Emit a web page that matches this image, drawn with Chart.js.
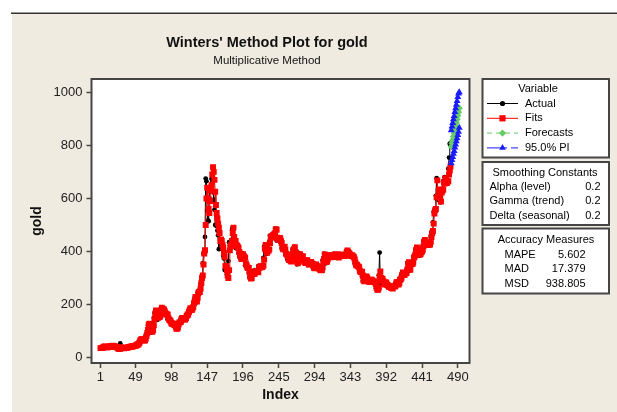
<!DOCTYPE html>
<html>
<head>
<meta charset="utf-8">
<script src="https://cdn.jsdelivr.net/npm/chart.js@4.4.1/dist/chart.umd.min.js"></script>
<style>
  html, body { margin: 0; padding: 0; background: #fff; }
  canvas { display: block; }
</style>
</head>
<body>
<canvas id="goldChart" width="617" height="412"></canvas>
<script>
// Winters' method plot for gold (Minitab style), drawn with Chart.js

// === Data ===
// monthly gold price, one row per year (index 1 .. 480)
const actual = [
  35, 35, 38, 38, 41, 41, 40, 39, 39, 39, 41, 41,
  42, 43, 43, 43, 44, 42, 42, 41, 41, 40, 38, 35,
  35, 35, 35, 54, 36, 35, 35, 35, 36, 38, 37, 37,
  38, 39, 39, 39, 41, 40, 41, 43, 42, 43, 43, 44,
  46, 48, 48, 49, 55, 62, 66, 67, 66, 65, 63, 64,
  65, 74, 84, 91, 102, 123, 120, 107, 103, 100, 95, 107,
  129, 150, 168, 172, 163, 154, 143, 155, 152, 159, 182, 184,
  176, 180, 178, 170, 167, 164, 165, 163, 145, 143, 143, 139,
  132, 131, 133, 128, 127, 126, 118, 110, 114, 117, 131, 134,
  132, 136, 149, 149, 147, 141, 143, 145, 149, 159, 162, 161,
  173, 178, 184, 175, 176, 184, 189, 206, 212, 227, 206, 208,
  227, 246, 242, 239, 258, 279, 295, 301, 355, 392, 393, 455,
  675, 665, 554, 517, 514, 601, 644, 627, 674, 661, 624, 595,
  557, 500, 499, 496, 479, 461, 409, 410, 443, 437, 413, 410,
  384, 374, 330, 350, 333, 314, 339, 364, 435, 422, 414, 444,
  481, 491, 419, 432, 438, 413, 422, 416, 412, 394, 381, 388,
  371, 387, 394, 381, 377, 378, 348, 348, 341, 340, 341, 320,
  303, 299, 304, 325, 316, 317, 317, 330, 323, 326, 325, 322,
  345, 339, 346, 340, 342, 343, 348, 376, 418, 423, 398, 391,
  408, 401, 409, 438, 460, 450, 450, 461, 460, 465, 467, 486,
  477, 442, 443, 451, 451, 451, 437, 431, 413, 407, 420, 418,
  404, 388, 390, 384, 371, 367, 375, 365, 362, 367, 394, 409,
  410, 417, 393, 374, 369, 352, 362, 395, 389, 380, 381, 378,
  383, 364, 363, 358, 357, 367, 368, 356, 349, 359, 360, 361,
  354, 354, 345, 338, 337, 341, 353, 343, 345, 344, 335, 334,
  329, 329, 330, 342, 367, 372, 392, 379, 355, 364, 373, 383,
  387, 382, 384, 377, 381, 386, 385, 380, 391, 389, 384, 379,
  379, 377, 382, 391, 385, 387, 386, 383, 383, 383, 386, 387,
  400, 405, 396, 393, 392, 385, 383, 387, 383, 381, 378, 369,
  355, 347, 352, 344, 344, 341, 324, 324, 323, 325, 306, 289,
  289, 297, 296, 308, 299, 292, 293, 284, 289, 296, 294, 291,
  287, 287, 286, 282, 277, 262, 256, 257, 265, 311, 396, 283,
  284, 300, 287, 280, 275, 286, 282, 275, 274, 270, 266, 272,
  266, 262, 263, 261, 272, 270, 268, 273, 283, 284, 276, 276,
  282, 296, 294, 302, 314, 321, 314, 310, 319, 317, 319, 333,
  357, 359, 340, 328, 355, 356, 351, 360, 379, 379, 389, 407,
  414, 405, 406, 404, 384, 392, 398, 400, 406, 420, 439, 442,
  424, 423, 434, 429, 422, 431, 424, 438, 456, 470, 476, 510,
  549, 555, 557, 610, 676, 596, 633, 632, 598, 585, 627, 629,
  631, 665, 655, 680, 667, 655, 665, 665, 712, 754, 806, 803,
];

const fits = [
  36, 36, 36, 38, 39, 41, 42, 41, 40, 39, 39, 40,
  41, 42, 43, 44, 44, 45, 43, 42, 41, 41, 40, 38,
  35, 34, 34, 34, 39, 38, 37, 36, 35, 36, 37, 38,
  37, 38, 39, 40, 40, 41, 41, 42, 43, 43, 44, 44,
  45, 47, 49, 50, 51, 55, 61, 67, 70, 70, 68, 66,
  65, 66, 72, 82, 92, 104, 124, 128, 118, 110, 104, 98,
  104, 122, 145, 167, 178, 174, 163, 150, 153, 153, 158, 178,
  188, 184, 183, 181, 174, 168, 164, 163, 162, 149, 143, 141,
  137, 130, 128, 129, 126, 124, 123, 117, 109, 110, 114, 126,
  133, 133, 135, 145, 150, 150, 145, 144, 145, 149, 157, 162,
  163, 172, 179, 186, 181, 180, 185, 191, 205, 214, 229, 215,
  212, 226, 245, 249, 247, 261, 281, 300, 310, 351, 392, 405,
  500, 600, 640, 600, 560, 545, 590, 630, 650, 690, 718, 700,
  670, 625, 575, 545, 525, 505, 490, 470, 440, 445, 440, 425,
  415, 395, 380, 345, 345, 330, 310, 300, 330, 405, 425, 420,
  440, 470, 490, 455, 440, 440, 425, 422, 418, 412, 398, 385,
  385, 372, 382, 390, 383, 378, 377, 355, 347, 340, 338, 338,
  322, 305, 298, 300, 318, 316, 316, 316, 326, 324, 325, 325,
  322, 340, 340, 345, 341, 342, 343, 347, 370, 410, 425, 405,
  395, 405, 403, 408, 432, 456, 455, 453, 461, 462, 466, 469,
  484, 482, 452, 445, 449, 450, 450, 440, 432, 416, 408, 417,
  418, 407, 392, 389, 385, 374, 368, 373, 366, 362, 365, 388,
  406, 410, 416, 398, 378, 370, 356, 360, 388, 390, 382, 381,
  378, 382, 368, 363, 359, 357, 365, 367, 358, 351, 357, 360,
  361, 356, 354, 347, 340, 337, 340, 351, 345, 345, 344, 337,
  334, 330, 329, 330, 340, 362, 372, 389, 382, 360, 362, 371,
  381, 386, 383, 384, 378, 380, 385, 385, 381, 389, 389, 385,
  380, 379, 377, 381, 389, 386, 387, 386, 384, 383, 383, 385,
  387, 397, 404, 398, 394, 392, 386, 383, 386, 384, 381, 378,
  370, 358, 348, 350, 345, 343, 341, 328, 323, 322, 324, 310,
  292, 288, 294, 296, 306, 301, 293, 292, 285, 288, 294, 294,
  291, 287, 287, 286, 282, 277, 263, 256, 257, 264, 305, 325,
  300, 290, 298, 289, 281, 276, 284, 282, 276, 274, 270, 266,
  270, 266, 262, 262, 261, 270, 270, 268, 272, 282, 285, 278,
  276, 281, 294, 295, 301, 313, 321, 316, 311, 318, 318, 320,
  331, 353, 360, 344, 331, 352, 357, 353, 359, 377, 381, 389,
  405, 415, 408, 407, 405, 388, 391, 397, 400, 406, 419, 437,
  444, 428, 424, 432, 430, 424, 430, 426, 437, 455, 470, 477,
  505, 543, 556, 560, 604, 668, 606, 630, 634, 603, 588, 622,
  630, 634, 660, 656, 676, 668, 658, 664, 665, 690, 705, 720,
];

// 12 periods ahead, right after the last actual value
const forecasts = [795, 808, 820, 833, 845, 860, 872, 885, 898, 912, 925, 940];
const piLower = [733, 745, 756, 768, 779, 792, 803, 815, 827, 839, 851, 866];
const piUpper = [857, 871, 884, 898, 911, 926, 940, 953, 967, 982, 995, 1000];

const xTickLabels = [1, 49, 98, 147, 196, 245, 294, 343, 392, 441, 490];
const yTickLabels = [0, 200, 400, 600, 800, 1000];

const smoothingLabels = ['Alpha (level)', 'Gamma (trend)', 'Delta (seasonal)'];
const smoothingValues = ['0.2', '0.2', '0.2'];
const accuracyLabels = ['MAPE', 'MAD', 'MSD'];
const accuracyValues = ['5.602', '17.379', '938.805'];

// === Styles ===
const FONT = "'Liberation Sans', Arial, sans-serif";
const BEIGE = '#f0ebe1';
const FRAME = '#454545';
const GREEN = '#66cc66';
const BLUE = '#1a1aff';

const toPoints = (values, start) => values.map((v, i) => ({x: start + i, y: v}));
const firstForecast = actual.length + 1;

const legendItems = [
  {label: 'Actual', color: '#000', style: 'circle', r: 2.6, dash: []},
  {label: 'Fits', color: '#ff0000', style: 'rect', r: 4.4, dash: []},
  {label: 'Forecasts', color: GREEN, style: 'rectRot', r: 3.6, dash: [5, 4]},
  {label: '95.0% PI', color: BLUE, style: 'triangle', r: 3.8, dash: [20, 4]},
];

function drawBox(ctx, x1, y1, x2, y2) {
  ctx.fillStyle = '#fff';
  ctx.fillRect(x1, y1, x2 - x1, y2 - y1);
  ctx.strokeStyle = FRAME;
  ctx.lineWidth = 2;
  ctx.strokeRect(x1, y1, x2 - x1, y2 - y1);
  ctx.fillStyle = '#000';
}

const decorPlugin = {
  id: 'decor',
  beforeDraw(chart) {
    const {ctx, chartArea: a} = chart;
    ctx.save();
    ctx.fillStyle = '#fff';
    ctx.fillRect(0, 0, chart.width, chart.height);
    ctx.fillStyle = BEIGE;
    ctx.fillRect(12, 14, chart.width - 12, chart.height - 14);
    ctx.strokeStyle = '#333';
    ctx.lineWidth = 1.5;
    ctx.beginPath();
    ctx.moveTo(11, 13.25);
    ctx.lineTo(chart.width, 13.25);
    ctx.stroke();

    ctx.fillStyle = '#fff';
    ctx.fillRect(a.left, a.top, a.right - a.left, a.bottom - a.top);

    // titles
    ctx.fillStyle = '#111';
    ctx.textAlign = 'center';
    ctx.textBaseline = 'middle';
    ctx.font = 'bold 14.5px ' + FONT;
    ctx.fillText("Winters' Method Plot for gold", 267, 43);
    ctx.font = '11.5px ' + FONT;
    ctx.fillText('Multiplicative Method', 267, 61);
    ctx.restore();
  },
  afterDraw(chart) {
    const {ctx, chartArea: a} = chart;
    ctx.save();
    ctx.strokeStyle = FRAME;
    ctx.lineWidth = 2;
    ctx.strokeRect(a.left, a.top, a.right - a.left, a.bottom - a.top);

    // --- legend box
    drawBox(ctx, 482.5, 79, 609, 157.5);
    ctx.font = '11px ' + FONT;
    ctx.textBaseline = 'middle';
    ctx.textAlign = 'center';
    ctx.fillText('Variable', 538, 89);
    legendItems.forEach((item, i) => {
      const y = 103.5 + i * 14.8;
      ctx.strokeStyle = item.color;
      ctx.lineWidth = 1;
      ctx.setLineDash(item.dash);
      ctx.beginPath();
      ctx.moveTo(487, y);
      ctx.lineTo(518, y);
      ctx.stroke();
      ctx.setLineDash([]);
      ctx.fillStyle = item.color;
      Chart.helpers.drawPoint(ctx, {pointStyle: item.style, radius: item.r, borderWidth: 0}, 502.5, y);
      ctx.fillStyle = '#000';
      ctx.textAlign = 'left';
      ctx.fillText(item.label, 525, y);
    });

    // --- smoothing constants
    drawBox(ctx, 482.5, 162, 609, 225);
    ctx.textAlign = 'center';
    ctx.fillText('Smoothing Constants', 545, 172.5);
    smoothingLabels.forEach((lab, i) => {
      const y = 186.5 + i * 14.8;
      ctx.textAlign = 'left';
      ctx.fillText(lab, 489.5, y);
      ctx.textAlign = 'right';
      ctx.fillText(smoothingValues[i], 600.5, y);
    });

    // --- accuracy measures
    drawBox(ctx, 482.5, 228.5, 609, 293.5);
    ctx.textAlign = 'center';
    ctx.fillText('Accuracy Measures', 546, 239.5);
    accuracyLabels.forEach((lab, i) => {
      const y = 254.5 + i * 14.5;
      ctx.textAlign = 'left';
      ctx.fillText(lab, 504.5, y);
      ctx.textAlign = 'right';
      ctx.fillText(accuracyValues[i], 585.5, y);
    });
    ctx.restore();
  },
};

const tickFont = {family: FONT, size: 13};
const titleFont = {family: FONT, size: 14, weight: 'bold'};

new Chart(document.getElementById('goldChart'), {
  type: 'line',
  data: {
    datasets: [
      {
        label: 'Actual',
        data: toPoints(actual, 1),
        borderColor: '#000',
        backgroundColor: '#000',
        borderWidth: 1,
        pointStyle: 'circle',
        pointRadius: 2.4,
        pointBorderWidth: 0,
        order: 3,
      },
      {
        label: 'Fits',
        data: toPoints(fits, 1),
        borderColor: '#ff0000',
        backgroundColor: '#ff0000',
        borderWidth: 1,
        pointStyle: 'rect',
        pointRadius: 4.2,
        pointBorderWidth: 0,
        order: 2,
      },
      {
        label: 'Forecasts',
        data: toPoints(forecasts, firstForecast),
        borderColor: GREEN,
        backgroundColor: GREEN,
        borderWidth: 1,
        borderDash: [5, 4],
        pointStyle: 'rectRot',
        pointRadius: 3.6,
        pointBorderWidth: 0,
        order: 1,
      },
      {
        label: '95.0% PI',
        data: toPoints(piUpper, firstForecast),
        borderColor: BLUE,
        backgroundColor: BLUE,
        borderWidth: 1,
        borderDash: [20, 4],
        pointStyle: 'triangle',
        pointRadius: 4,
        pointBorderWidth: 0,
        order: 0,
      },
      {
        label: '95.0% PI (lower)',
        data: toPoints(piLower, firstForecast),
        borderColor: BLUE,
        backgroundColor: BLUE,
        borderWidth: 1,
        borderDash: [20, 4],
        pointStyle: 'triangle',
        pointRadius: 4,
        pointBorderWidth: 0,
        order: 0,
      },
    ],
  },
  options: {
    responsive: false,
    animation: false,
    events: [],
    layout: {padding: {left: 12, top: 79, right: 147.5, bottom: 0}},
    plugins: {
      legend: {display: false},
      tooltip: {enabled: false},
      title: {display: false},
    },
    scales: {
      x: {
        type: 'linear',
        min: -11.3,
        max: 506,
        afterBuildTicks: (s) => {
          s.ticks = xTickLabels.map((v) => ({value: v}));
        },
        afterFit: (s) => {
          s.height = 49;
        },
        grid: {drawOnChartArea: false, drawTicks: true, tickLength: 5, tickColor: FRAME, tickWidth: 1.5},
        border: {display: false},
        ticks: {
          padding: 2,
          color: '#222',
          font: tickFont,
          maxRotation: 0,
          autoSkip: false,
          callback: (v) => String(v),
        },
        title: {display: true, text: 'Index', color: '#111', font: titleFont, padding: {top: 0, bottom: 8.6}},
      },
      y: {
        min: -20,
        max: 1050,
        afterBuildTicks: (s) => {
          s.ticks = yTickLabels.map((v) => ({value: v}));
        },
        afterFit: (s) => {
          s.width = 79.5;
        },
        grid: {drawOnChartArea: false, drawTicks: true, tickLength: 5, tickColor: FRAME, tickWidth: 1.5},
        border: {display: false},
        ticks: {padding: 4, color: '#222', font: tickFont, callback: (v) => String(v)},
        title: {display: true, text: 'gold', color: '#111', font: titleFont, padding: {top: 16.3, bottom: 0}},
      },
    },
  },
  plugins: [decorPlugin],
});
</script>
</body>
</html>
